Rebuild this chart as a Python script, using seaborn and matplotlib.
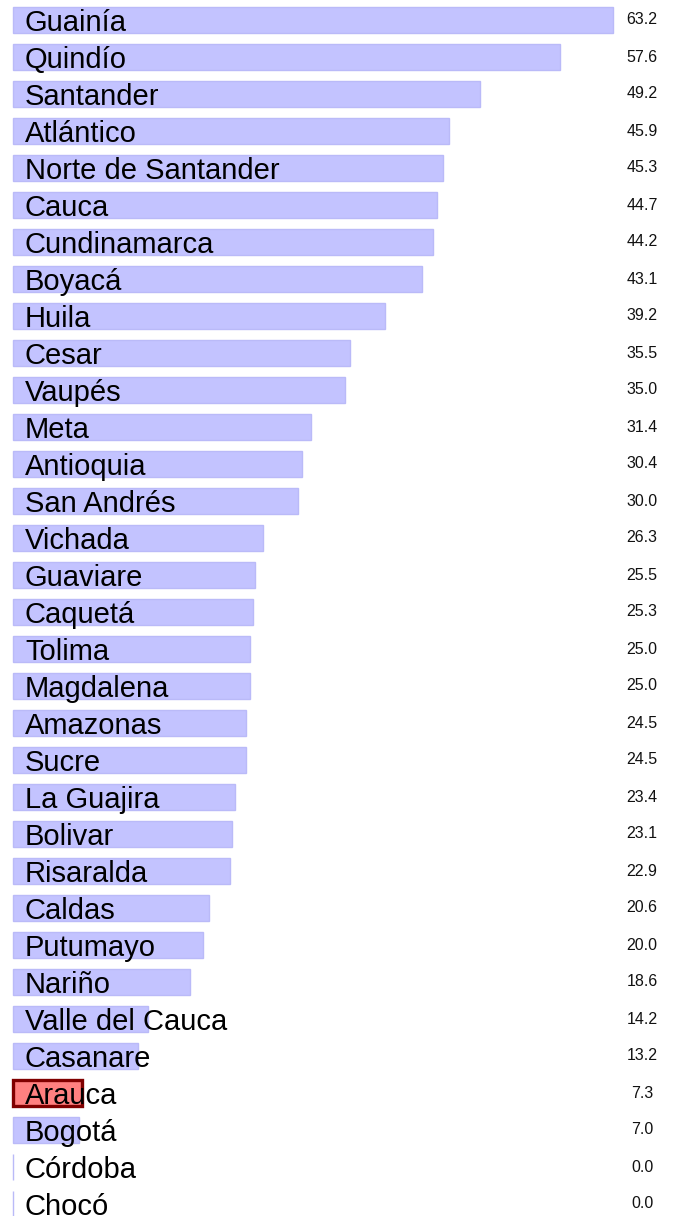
import matplotlib
matplotlib.use("Agg")
import matplotlib.pyplot as plt
import matplotlib.transforms as mtransforms
import seaborn as sns
import pandas as pd

# Data
departments = [
    "Guainía", "Quindío", "Santander", "Atlántico", "Norte de Santander",
    "Cauca", "Cundinamarca", "Boyacá", "Huila", "Cesar", "Vaupés", "Meta",
    "Antioquia", "San Andrés", "Vichada", "Guaviare", "Caquetá", "Tolima",
    "Magdalena", "Amazonas", "Sucre", "La Guajira", "Bolivar", "Risaralda",
    "Caldas", "Putumayo", "Nariño", "Valle del Cauca", "Casanare", "Arauca",
    "Bogotá", "Córdoba", "Chocó",
]
values = [
    63.2, 57.6, 49.2, 45.9, 45.3, 44.7, 44.2, 43.1, 39.2, 35.5, 35.0, 31.4,
    30.4, 30.0, 26.3, 25.5, 25.3, 25.0, 25.0, 24.5, 24.5, 23.4, 23.1, 22.9,
    20.6, 20.0, 18.6, 14.2, 13.2, 7.3, 7.0, 0.0, 0.0,
]
highlight = "Arauca"

df = pd.DataFrame({"Department": departments, "Value": values})

sns.set_theme(style="white")
plt.rcParams["font.family"] = ["Liberation Sans", "DejaVu Sans"]

W, H = 675, 1216
fig = plt.figure(figsize=(W / 100, H / 100), dpi=100)
ax = fig.add_axes([0, 0, 1, 1])

bar_color = "#c3c3ff"
ax = sns.barplot(data=df, x="Value", y="Department", orient="h",
                 color=bar_color, saturation=1, width=0.71,
                 edgecolor="#babaf8", linewidth=1.0, ax=ax)

for patch, name in zip(ax.patches, df["Department"]):
    if name == highlight:
        patch.set_facecolor("#ff8080")
        patch.set_edgecolor("#800000")
        patch.set_linewidth(2.4)

# pixel mapping: 0 -> 13 px, max -> 613 px
scale = 600 / max(values)
ax.set_xlim(-13 / scale, (W - 13) / scale)
n = len(departments)
spacing = (1204 - 20) / (n - 1)
ax.set_ylim(n - 1 + (H - 1204) / spacing, -20 / spacing)

label_tr = mtransforms.offset_copy(ax.transData, fig=fig, x=12, y=-11, units="dots")
for i, (name, v) in enumerate(zip(departments, values)):
    ax.text(0, i, name, transform=label_tr, ha="left", va="baseline",
            fontsize=21, color="black", zorder=5)
    ax.text(642 / W, i, f"{v:.1f}", transform=ax.get_yaxis_transform(),
            ha="center", va="center", fontsize=11.5, color="#111111")

ax.set_xlabel("")
ax.set_ylabel("")
ax.set_xticks([])
ax.set_yticks([])
for s in ax.spines.values():
    s.set_visible(False)

fig.savefig("out.png", dpi=100)
plt.close(fig)
